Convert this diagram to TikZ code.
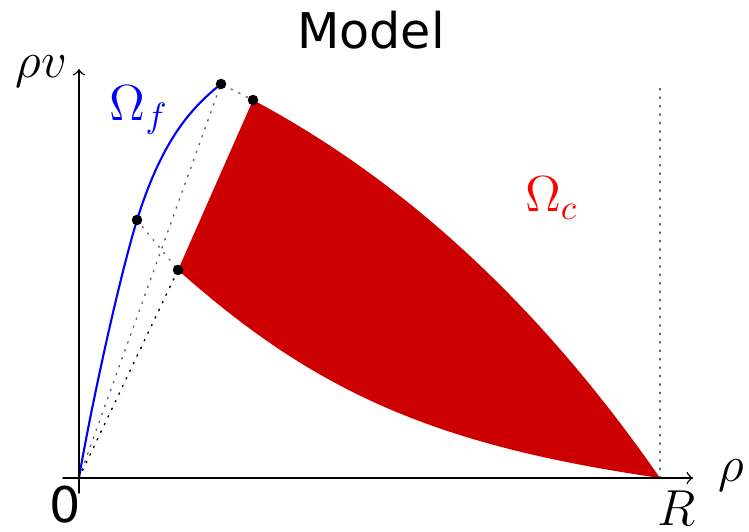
\documentclass[tikz,border=0pt]{standalone}
\usepackage{fontspec}
\setmainfont{DejaVu Sans}
\begin{document}
\begin{tikzpicture}[font=\fontsize{14pt}{17pt}\selectfont, line join=round, line cap=round, >=to,
	dot/.style={circle, fill=black, inner sep=0pt, minimum size=1.05mm},
	guide/.style={dotted, thin, black!60}]
		\useasboundingbox (-0.79,-0.53) rectangle (6.70,4.78);
		\coordinate (O) at (0,0);
		\coordinate (R) at (5.81,0);
		\coordinate (Rt) at (5.81,3.93);
		\coordinate (xs) at (-0.16,0);
		\coordinate (xe) at (6.14,0);
		\coordinate (ys) at (0,-0.15);
		\coordinate (ye) at (0,4.09);
		\coordinate (A) at (1.42,3.94);
		\coordinate (B) at (1.74,3.78);
		\coordinate (C) at (0.58,2.58);
		\coordinate (D) at (0.99,2.08);
		% congested region
		\fill[red!80!black] (D) -- (B) .. controls (3.28,2.96) and (4.63,1.70) .. (R)
			.. controls (3.61,0.32) and (2.39,0.83) .. (D) -- cycle;
		% guide lines
		\draw[guide] (O) -- (A) -- (B);
		\draw[guide, black] (O) -- (D);
		\draw[guide] (C) -- (D);
		\draw[guide] (R) -- (Rt);
		% free flow branch
		\draw[blue, semithick] (O) .. controls (0.1,0.6) and (0.38,1.92) .. (C)
			.. controls (0.83,3.38) and (1.12,3.70) .. (A);
		% axes
		\draw[->] (xs) -- (xe);
		\draw[->] (ys) -- (ye);
		\foreach \p in {A,B,C,D} \node[dot] (d\p) at (\p) {};
		\node (xl) at (6.52,0.02) {$\rho$};
		\node (yl) at (-0.375,4.065) {$\rho v$};
		\node (zero) at (-0.14,-0.27) {0};
		\node (rl) at (5.98,-0.305) {$R$};
		\node[blue] (of) at (0.60,3.68) {$\Omega_f$};
		\node[red] (oc) at (4.725,2.795) {$\Omega_c$};
		\node (title) at (2.92,4.475) {Model};
	\end{tikzpicture}
\end{document}
